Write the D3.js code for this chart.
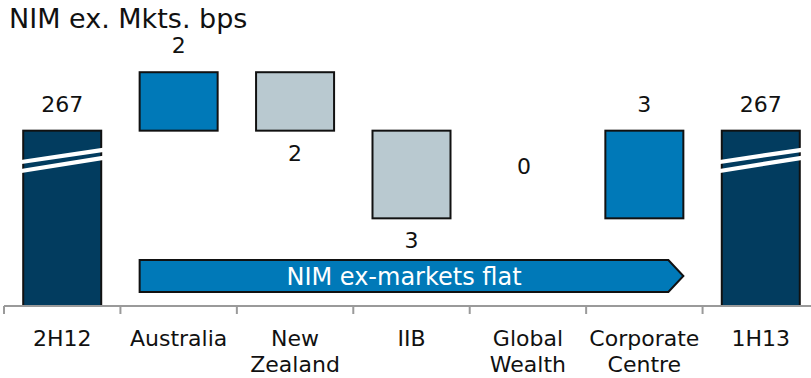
<!DOCTYPE html>
<html>
<head>
<meta charset="utf-8">
<script src="https://cdn.jsdelivr.net/npm/d3@7"></script>
<style>
  html, body { margin: 0; padding: 0; background: #fff; }
  svg { display: block; font-family: "DejaVu Sans", Verdana, sans-serif; }
</style>
</head>
<body>
<svg id="chart" width="811" height="378"></svg>
<script>
// ---- Data ----
const categories = ["2H12", "Australia", "New Zealand", "IIB", "Global Wealth", "Corporate Centre", "1H13"];
const categoryLines = [["2H12"], ["Australia"], ["New", "Zealand"], ["IIB"], ["Global", "Wealth"], ["Corporate", "Centre"], ["1H13"]];
const startTotal = 267;
const deltas = [2, -2, -3, 0, 3];          // Australia, NZ, IIB, Global Wealth, Corporate Centre
const endTotal = 267;
const valueLabels = ["267", "2", "2", "3", "0", "3", "267"];
const titleText = "NIM ex. Mkts. bps";
const arrowText = "NIM ex-markets flat";

// ---- Build waterfall rows ----
const rows = [];
rows.push({cat: categories[0], type: "total", lo: null, hi: startTotal, label: valueLabels[0]});
let run = startTotal;
deltas.forEach((d, i) => {
  const a = run, b = run + d;
  rows.push({cat: categories[i + 1], type: d > 0 ? "up" : (d < 0 ? "down" : "zero"),
             lo: Math.min(a, b), hi: Math.max(a, b), level: b, label: valueLabels[i + 1]});
  run = b;
});
rows.push({cat: categories[6], type: "total", lo: null, hi: endTotal, label: valueLabels[6]});

// ---- Scales ----
const svg = d3.select("#chart");
const axisY = 306;
const x = d3.scaleBand().domain(categories).range([4, 819]).paddingInner(0.33).paddingOuter(0.165);
const y = d3.scaleLinear().domain([261, 270]).range([axisY, 43]);

const colors = {total: "#023c5f", up: "#0079b8", down: "#b9c9d0"};

// Title
svg.append("text").attr("x", 9).attr("y", 28)
  .attr("font-size", 27).attr("fill", "#111").text(titleText);

// Bars
const bw = x.bandwidth();
rows.forEach(r => {
  if (r.type === "zero") return;
  const x0 = x(r.cat);
  const top = y(r.hi);
  const bottom = r.type === "total" ? axisY : y(r.lo);
  svg.append("rect")
    .attr("x", x0).attr("y", top).attr("width", bw).attr("height", bottom - top)
    .attr("fill", colors[r.type]).attr("stroke", "#111").attr("stroke-width", 2);
  if (r.type === "total") {
    // axis break marks
    [[31, 19.5], [40, 27.5]].forEach(([l, rr]) => {
      svg.append("line")
        .attr("x1", x0 - 2).attr("y1", top + l + 0.3)
        .attr("x2", x0 + bw + 2).attr("y2", top + rr - 0.3)
        .attr("stroke", "#fff").attr("stroke-width", 4.2);
    });
  }
});

// Value labels
rows.forEach(r => {
  let ty;
  if (r.type === "total" || r.type === "up") ty = y(r.hi) - 19;
  else if (r.type === "down") ty = y(r.lo) + 30;
  else ty = y(r.level) - 44;
  svg.append("text")
    .attr("x", x(r.cat) + bw / 2 - (r.type === "zero" ? 4 : 0)).attr("y", ty)
    .attr("text-anchor", "middle").attr("font-size", 22).attr("fill", "#111")
    .text(r.label);
});

// Arrow
const ax0 = x(categories[1]);
const ax1 = x(categories[5]) + bw;
const aTop = 260, aBot = 292, tipW = 15;
const aMid = (aTop + aBot) / 2;
svg.append("path")
  .attr("d", `M${ax0},${aTop} L${ax1 - tipW},${aTop} L${ax1},${aMid} L${ax1 - tipW},${aBot} L${ax0},${aBot} Z`)
  .attr("fill", "#0079b8").attr("stroke", "#111").attr("stroke-width", 2).attr("stroke-linejoin", "miter");
svg.append("text")
  .attr("x", (ax0 + ax1 - tipW) / 2).attr("y", aMid + 8.5)
  .attr("text-anchor", "middle").attr("font-size", 24).attr("fill", "#fff")
  .text(arrowText);

// Axis line + ticks
const step = x.step();
const axisG = svg.append("g");
axisG.append("line").attr("x1", 4).attr("x2", 811).attr("y1", axisY).attr("y2", axisY)
  .attr("stroke", "#9a9a9a").attr("stroke-width", 2);
categories.forEach(c => {
  const tx = x(c) - (step - bw) / 2;
  axisG.append("line").attr("x1", tx).attr("x2", tx).attr("y1", axisY).attr("y2", axisY + 8)
    .attr("stroke", "#9a9a9a").attr("stroke-width", 2);
});

// Category labels
categories.forEach((c, i) => {
  const t = svg.append("text").attr("x", x(c) + bw / 2).attr("y", 346)
    .attr("text-anchor", "middle").attr("font-size", 22).attr("fill", "#111");
  categoryLines[i].forEach((ln, j) => {
    t.append("tspan").attr("x", x(c) + bw / 2).attr("dy", j === 0 ? 0 : 26).text(ln);
  });
});
</script>
</body>
</html>
